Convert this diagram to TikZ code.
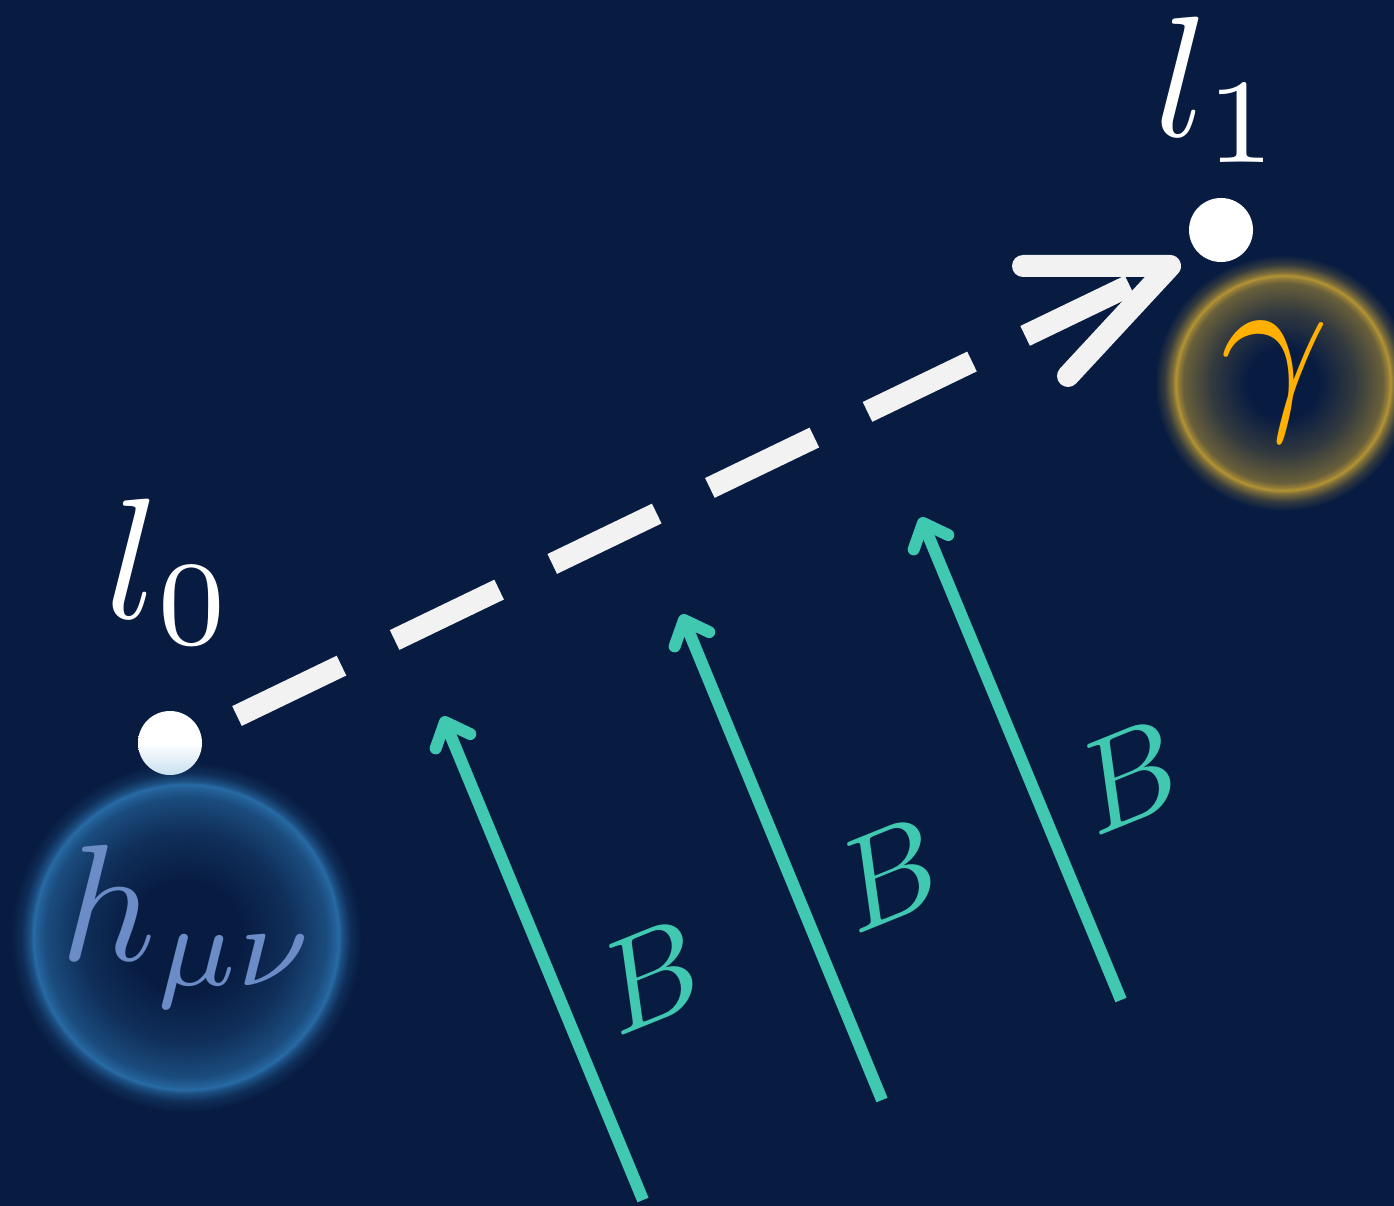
\documentclass[tikz,border=0pt]{standalone}
\usepackage{graphicx}
\usetikzlibrary{calc}
\definecolor{bg}{HTML}{081C42}
\definecolor{wline}{HTML}{F2F2F2}
\definecolor{bteal}{HTML}{40C9B0}
\definecolor{gold}{HTML}{FFB000}
\definecolor{hblue}{HTML}{6B8CC6}
\definecolor{ringblue}{HTML}{2A72AE}
\definecolor{ringgold}{HTML}{C9A232}
\definecolor{dotblue}{HTML}{C8E0F0}
\pgfdeclareradialshading{blueglow}{\pgfpoint{0bp}{0bp}}{%
  color(0bp)=(bg); color(8bp)=(bg); color(15bp)=(ringblue!22!bg);
  color(20bp)=(ringblue!55!bg); color(21.4bp)=(ringblue!80!bg);
  color(21.8bp)=(ringblue!92!bg); color(22.3bp)=(ringblue!60!bg);
  color(23.5bp)=(ringblue!20!bg); color(25bp)=(bg); color(50bp)=(bg)}
\pgfdeclareradialshading{goldglow}{\pgfpoint{0bp}{0bp}}{%
  color(0bp)=(bg); color(7bp)=(bg); color(14bp)=(ringgold!22!bg);
  color(19.5bp)=(ringgold!50!bg); color(20.6bp)=(ringgold!75!bg);
  color(20.95bp)=(ringgold!90!bg); color(21.6bp)=(ringgold!62!bg);
  color(23.2bp)=(ringgold!22!bg); color(25bp)=(bg); color(50bp)=(bg)}
\tikzset{
  dotnode/.style={circle, minimum size=64pt, inner sep=0pt},
  lbl/.style={text=white, inner sep=0pt},
  wdash/.style={draw=wline, line width=22pt, dash pattern=on 116pt off 59pt},
  whead/.style={draw=wline, line width=22pt, line cap=round, line join=round},
  gline/.style={draw=bteal, line width=12pt},
  ghead/.style={draw=bteal, line width=12pt, line cap=round, line join=round},
  btxt/.style={text=bteal, inner sep=0pt, rotate=22}
}
\begin{document}
\begin{tikzpicture}[x=1pt,y=-1pt]
\fill[bg] (0,0) rectangle (1394,1206);
\useasboundingbox (0,0) rectangle (1394,1206);
% glows
\coordinate (hc) at (186,937);
\coordinate (gc) at (1283,383);
\shade[shading=blueglow] (hc) circle (175);
\shade[shading=goldglow] (gc) circle (128);
% dots
\node[dotnode, top color=white, bottom color=dotblue, middle color=white] (l0dot) at (170,743) {};
\node[dotnode, fill=white] (l1dot) at (1221,230) {};
% labels
\node[lbl] (l0) at (170,572) {\scalebox{17.2}{$l_0$}};
\node[lbl] (l1) at (1219,90) {\scalebox{17.2}{$l_1$}};
\node[text=hblue, inner sep=0pt] (h) at (190,927) {\scalebox{16.6}{$h_{\mu\nu}$}};
\node[text=gold, inner sep=0pt] (g) at (1275,382) {\scalebox{19}{$\gamma$}};
% dashed arrow
\coordinate (s) at (237,716);
\coordinate (e) at (1170,266);
\coordinate (a1) at (1023,266);
\coordinate (a2) at (1068,376);
\draw[wdash] (s) -- (e);
\draw[whead] (a1) -- (e) -- (a2);
% green arrows
\coordinate (b1) at (643,1200); \coordinate (t1) at (445,722);
\coordinate (b2) at (882,1100); \coordinate (t2) at (684,620);
\coordinate (b3) at (1121,1000); \coordinate (t3) at (923,523);
\foreach \i in {1,2,3}{
  \draw[gline] (b\i) -- (t\i);
  \draw[ghead] ($(t\i)!28pt!42:(b\i)$) -- (t\i) -- ($(t\i)!28pt!-42:(b\i)$);
}
\node[btxt] (B1) at (650,977) {\scalebox{13}{$B$}};
\node[btxt] (B2) at (888,875) {\scalebox{13}{$B$}};
\node[btxt] (B3) at (1128,777) {\scalebox{13}{$B$}};
\end{tikzpicture}
\end{document}
